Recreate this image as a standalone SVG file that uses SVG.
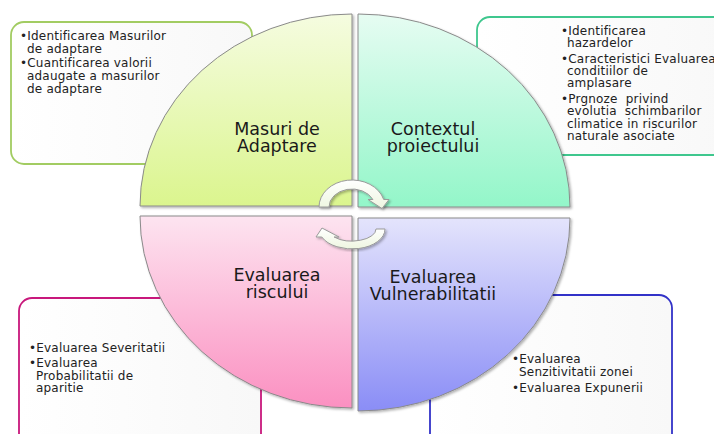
<svg xmlns="http://www.w3.org/2000/svg" width="714" height="434" viewBox="0 0 714 434">
<defs>
<linearGradient id="gTL" x1="0" y1="0" x2="0" y2="1"><stop offset="0" stop-color="#f5fce0"/><stop offset="1" stop-color="#dbf58e"/></linearGradient>
<linearGradient id="gTR" x1="0" y1="0" x2="0" y2="1"><stop offset="0" stop-color="#e6fcf2"/><stop offset="1" stop-color="#93f6c9"/></linearGradient>
<linearGradient id="gBL" x1="0" y1="0" x2="0" y2="1"><stop offset="0" stop-color="#fde4f0"/><stop offset="1" stop-color="#fb90c1"/></linearGradient>
<linearGradient id="gBR" x1="0" y1="0" x2="0" y2="1"><stop offset="0" stop-color="#e4e4fc"/><stop offset="1" stop-color="#8a8df6"/></linearGradient>
<linearGradient id="gArr" x1="0" y1="0" x2="0" y2="1"><stop offset="0" stop-color="#ffffff"/><stop offset="1" stop-color="#eef6e0"/></linearGradient>
<linearGradient id="gBox" x1="0" y1="0" x2="1" y2="0"><stop offset="0" stop-color="#ffffff"/><stop offset="1" stop-color="#f8f8f8"/></linearGradient>
<filter id="sh" x="-10%" y="-10%" width="120%" height="120%"><feDropShadow dx="1.5" dy="1.5" stdDeviation="1.2" flood-color="#000" flood-opacity="0.3"/></filter>
</defs>
<style>
.box{fill:url(#gBox);stroke-width:1.8}
.q{stroke:#8a8a8a;stroke-width:1;filter:url(#sh)}
.lab{font-family:"DejaVu Sans",Verdana,sans-serif;font-size:17.5px;fill:#1a1a1a;text-anchor:middle}
.t{font-family:"DejaVu Sans",Verdana,sans-serif;font-size:12px;letter-spacing:0.2px;fill:#222;white-space:pre}
.arr{fill:url(#gArr);stroke:#9a9a9a;stroke-width:1;filter:url(#sh)}
</style>
<g id="box-adaptare">
<rect class="box" x="11" y="22" width="241" height="142" rx="13" stroke="#a2cc62"/>
<text class="t"><tspan x="20" y="40">•Identificarea Masurilor</tspan><tspan x="27" y="53">de adaptare</tspan><tspan x="20" y="67">•Cuantificarea valorii</tspan><tspan x="27" y="80">adaugate a masurilor</tspan><tspan x="27" y="93">de adaptare</tspan></text>
</g>
<g id="box-context">
<rect class="box" x="477" y="17" width="260" height="138" rx="13" stroke="#3fc78e"/>
<text class="t"><tspan x="561" y="35">•Identificarea</tspan><tspan x="567" y="47">hazardelor</tspan><tspan x="561" y="63">•Caracteristici Evaluarea</tspan><tspan x="567" y="75">conditiilor de</tspan><tspan x="567" y="87">amplasare</tspan><tspan x="561" y="103">•Prgnoze  privind</tspan><tspan x="567" y="115">evolutia  schimbarilor</tspan><tspan x="567" y="128">climatice in riscurilor</tspan><tspan x="567" y="140">naturale asociate</tspan></text>
</g>
<g id="box-risc">
<rect class="box" x="19" y="298" width="242" height="150" rx="13" stroke="#c8187c"/>
<text class="t"><tspan x="29" y="352">•Evaluarea Severitatii</tspan><tspan x="29" y="367">•Evaluarea</tspan><tspan x="36" y="380">Probabilitatii de</tspan><tspan x="36" y="392">aparitie</tspan></text>
</g>
<g id="box-vuln">
<rect class="box" x="430" y="295" width="242" height="153" rx="13" stroke="#3232c8"/>
<text class="t"><tspan x="512" y="363">•Evaluarea</tspan><tspan x="519" y="376">Senzitivitatii zonei</tspan><tspan x="512" y="392">•Evaluarea Expunerii</tspan></text>
</g>
<g id="q-adaptare">
<path class="q" fill="url(#gTL)" d="M352 206 L140 206 A212 192 0 0 1 352 14 Z"/>
<text class="lab"><tspan x="277" y="135">Masuri de</tspan><tspan x="277" y="152">Adaptare</tspan></text>
</g>
<g id="q-context">
<path class="q" fill="url(#gTR)" d="M358 207 L358 14 A212 193 0 0 1 570 207 Z"/>
<text class="lab"><tspan x="433" y="135">Contextul</tspan><tspan x="433" y="152">proiectului</tspan></text>
</g>
<g id="q-risc">
<path class="q" fill="url(#gBL)" d="M352 216 L352 408 A212 192 0 0 1 140 216 Z"/>
<text class="lab"><tspan x="277" y="281">Evaluarea</tspan><tspan x="277" y="298">riscului</tspan></text>
</g>
<g id="q-vuln">
<path class="q" fill="url(#gBR)" d="M358 218 L570 218 A212 193 0 0 1 358 411 Z"/>
<text class="lab"><tspan x="433" y="283">Evaluarea</tspan><tspan x="433" y="300">Vulnerabilitatii</tspan></text>
</g>
<g id="connectors">
<path class="arr" d="M319 207 A33 27 0 0 1 383.7 199.5 L389 199.5 L382 208.5 L368 199.5 L372.9 199.5 A23 18 0 0 0 329 207 Z"/>
<path class="arr" d="M385 229 A33 20 0 0 1 321.8 237 L316 237 L322 228 L339 237 L334.1 237 A24 12 0 0 0 376 229 Z"/>
</g>
</svg>
